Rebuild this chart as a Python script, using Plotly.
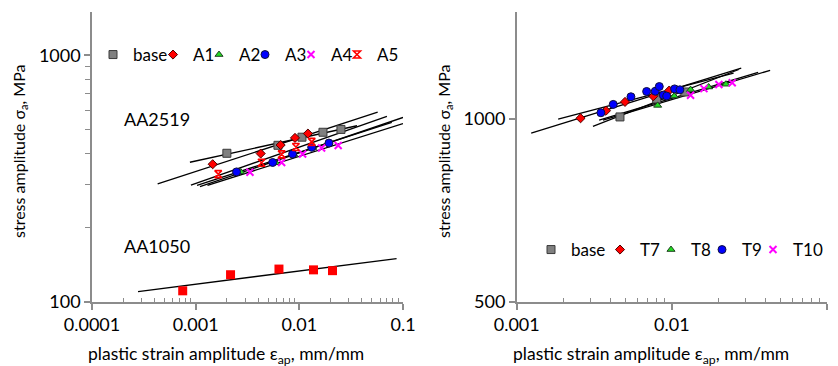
import numpy as np
import plotly.graph_objects as go

# ---------------- data: left chart (AA2519 / AA1050) ----------------
base_L_x = [0.0020, 0.00622, 0.0106, 0.0169, 0.0252]
base_L_y = [401, 432, 466, 488, 501]
A1_x = [0.00146, 0.00424, 0.0066, 0.00908, 0.0121]
A1_y = [362, 400, 433, 463, 482]
A2_x = [0.00272, 0.00594, 0.0088, 0.0135]
A2_y = [337, 367, 397, 423]
A3_x = [0.00248, 0.00553, 0.00861, 0.01316, 0.0193]
A3_y = [337, 368, 398, 424, 441]
A4_x = [0.00334, 0.00675, 0.01076, 0.0164, 0.0237]
A4_y = [336, 368, 398, 421, 431]
A5_x = [0.00165, 0.00432, 0.00675, 0.00927, 0.01316]
A5_y = [330, 367, 397, 425, 446]
AA1050_x = [0.00075, 0.00217, 0.00636, 0.0137, 0.0209]
AA1050_y = [111, 129, 136, 135, 134]

# trendline extents (strain range of each fitted power-law line)
line_L_names = ["base", "A1", "A2", "A3", "A4", "A5", "AA1050"]
line_L_start = [0.00088, 0.00043, 0.0011, 0.00103, 0.0013, 0.0009, 0.000278]
line_L_end = [0.036, 0.057, 0.1, 0.078, 0.1, 0.07, 0.0867]

# ---------------- data: right chart ----------------
base_R_x = [0.00463, 0.00798, 0.01213]
base_R_y = [1008, 1079, 1108]
T7_x = [0.00258, 0.00376, 0.00499, 0.00759, 0.00962]
T7_y = [1003, 1032, 1067, 1090, 1114]
T8_x = [0.0081, 0.01036, 0.0132, 0.01726, 0.02232]
T8_y = [1053, 1091, 1118, 1129, 1141]
T9_x = [0.00349, 0.00419, 0.00545, 0.00688, 0.00782, 0.0083, 0.0088, 0.00926, 0.01042, 0.01127]
T9_y = [1024, 1057, 1088, 1110, 1111, 1131, 1095, 1091, 1121, 1117]
T10_x = [0.0132, 0.0161, 0.0201, 0.0245]
T10_y = [1094, 1122, 1140, 1147]

line_R_names = ["base", "T7", "T8", "T9", "T10"]
line_R_start = [0.0031, 0.00124, 0.0034, 0.00185, 0.0036]
line_R_end = [0.027, 0.028, 0.036, 0.025, 0.043]

FONT = "Lato"
AX_COLOR = "#8C8C8C"


def fit_line(xs, ys, x0, x1):
    a, b = np.polyfit(np.log10(xs), np.log10(ys), 1)
    lx = np.array([x0, x1])
    return lx, 10 ** (b + a * np.log10(lx))


fig = go.Figure()

left_series = {
    "base": (base_L_x, base_L_y), "A1": (A1_x, A1_y), "A2": (A2_x, A2_y),
    "A3": (A3_x, A3_y), "A4": (A4_x, A4_y), "A5": (A5_x, A5_y),
    "AA1050": (AA1050_x, AA1050_y),
}
for name, s, e in zip(line_L_names, line_L_start, line_L_end):
    xs, ys = left_series[name]
    lx, ly = fit_line(xs, ys, s, e)
    fig.add_trace(go.Scatter(x=lx, y=ly, mode="lines", line=dict(color="black", width=1.3),
                             showlegend=False, hoverinfo="skip", xaxis="x", yaxis="y"))

right_series = {
    "base": (base_R_x, base_R_y), "T7": (T7_x, T7_y), "T8": (T8_x, T8_y),
    "T9": (T9_x, T9_y), "T10": (T10_x, T10_y),
}
for name, s, e in zip(line_R_names, line_R_start, line_R_end):
    xs, ys = right_series[name]
    lx, ly = fit_line(xs, ys, s, e)
    fig.add_trace(go.Scatter(x=lx, y=ly, mode="lines", line=dict(color="black", width=1.3),
                             showlegend=False, hoverinfo="skip", xaxis="x2", yaxis="y2"))

BORDER = dict(color="#3a3a3a", width=1)
sty = {
    "base": dict(symbol="square", size=8, color="#808080", line=BORDER),
    "red": dict(symbol="diamond", size=7, color="#FF0000", line=dict(color="#500000", width=1)),
    "green": dict(symbol="triangle-up", size=7, color="#22DD22", line=dict(color="#204020", width=1)),
    "blue": dict(symbol="circle", size=8, color="#0000FF", line=dict(color="#101040", width=1)),
    "mag": dict(symbol="x-thin-open", size=7, color="#FF00FF", line=dict(color="#FF00FF", width=2)),
    "A5": dict(symbol="hourglass-open", size=7, color="#FF0000", line=dict(color="#FF0000", width=1.6)),
}

fig.add_trace(go.Scatter(x=AA1050_x, y=AA1050_y, mode="markers",
                         marker=dict(symbol="square", size=9, color="#FF0000"),
                         showlegend=False, xaxis="x", yaxis="y"))

left_pts = [("base", base_L_x, base_L_y, "base", 15), ("A1", A1_x, A1_y, "red", 1),
            ("A2", A2_x, A2_y, "green", 1), ("A3", A3_x, A3_y, "blue", 1),
            ("A4", A4_x, A4_y, "mag", 1), ("A5", A5_x, A5_y, "A5", 25)]
for name, xs, ys, st, lw in left_pts:
    fig.add_trace(go.Scatter(x=xs, y=ys, mode="markers", name=name, marker=sty[st],
                             legend="legend", legendwidth=lw, xaxis="x", yaxis="y"))

right_pts = [("base", base_R_x, base_R_y, "base", 24), ("T7", T7_x, T7_y, "red", 6),
             ("T8", T8_x, T8_y, "green", 6), ("T9", T9_x, T9_y, "blue", 6),
             ("T10", T10_x, T10_y, "mag", 32)]
for name, xs, ys, st, lw in right_pts:
    fig.add_trace(go.Scatter(x=xs, y=ys, mode="markers", name=name, marker=sty[st],
                             legend="legend2", legendwidth=lw, xaxis="x2", yaxis="y2"))

W, H = 838, 366
def px_x(p): return p / W
def px_y(p): return (H - p) / H

minor_L = [m * 10 ** e for e in (-4, -3, -2) for m in range(2, 10)]
minor_R = [m * 10 ** e for e in (-3, -2) for m in range(2, 10)]
minor_yL = [m * 100 for m in range(2, 10)]

common_axis = dict(type="log", showgrid=False, zeroline=False, showline=True, automargin=False,
                   linecolor=AX_COLOR, linewidth=1.5, ticks="outside", ticklen=6,
                   tickcolor=AX_COLOR, tickwidth=1.5,
                   tickfont=dict(family=FONT, size=18, color="black"))

YT_SIZE = 16
XT_SIZE = 17.5
fig.update_layout(
    template="none",
    width=W, height=H, margin=dict(l=0, r=0, t=0, b=0, autoexpand=False),
    paper_bgcolor="white", plot_bgcolor="white",
    font=dict(family=FONT, color="black"),
    xaxis=dict(common_axis, domain=[px_x(92), px_x(403)], range=[-4, -1], anchor="y",
               tickvals=[0.0001, 0.001, 0.01, 0.1], ticktext=["0.0001", "0.001", "0.01", "0.1"],
               minor=dict(tickvals=minor_L, ticks="inside", ticklen=4, tickcolor=AX_COLOR, tickwidth=1)),
    yaxis=dict(common_axis, domain=[px_y(302), px_y(12)], range=[2, np.log10(1500)], anchor="x",
               tickvals=[100, 1000], ticktext=["100", "1000"],
               minor=dict(tickvals=minor_yL, ticks="outside", ticklen=5, tickcolor=AX_COLOR, tickwidth=1)),
    xaxis2=dict(common_axis, domain=[px_x(516.7), px_x(827)], range=[-3, -1], anchor="y2",
                tickvals=[0.001, 0.01, 0.1], ticktext=["0.001", "0.01", "0.1"],
                minor=dict(tickvals=minor_R, ticks="inside", ticklen=4, tickcolor=AX_COLOR, tickwidth=1)),
    yaxis2=dict(common_axis, domain=[px_y(302), px_y(12)], range=[np.log10(500), np.log10(1500)],
                anchor="x2", tickvals=[500, 1000], ticktext=["500", "1000"]),
    legend=dict(orientation="h", x=px_x(93), y=px_y(55), xanchor="left", yanchor="middle",
                font=dict(family=FONT, size=17, color="black"), bgcolor="rgba(0,0,0,0)",
                itemwidth=30, tracegroupgap=0),
    legend2=dict(orientation="h", x=px_x(531), y=px_y(250), xanchor="left", yanchor="middle",
                 font=dict(family=FONT, size=17, color="black"), bgcolor="rgba(0,0,0,0)",
                 itemwidth=30),
    annotations=[
        dict(text="AA2519", x=px_x(122), y=px_y(119), xref="paper", yref="paper",
             xanchor="left", yanchor="middle", showarrow=False, font=dict(family=FONT, size=18)),
        dict(text="AA1050", x=px_x(122), y=px_y(246), xref="paper", yref="paper",
             xanchor="left", yanchor="middle", showarrow=False, font=dict(family=FONT, size=18)),
        dict(text="stress amplitude σ<sub>a</sub>, MPa", x=px_x(19), y=px_y(152), xref="paper",
             yref="paper", textangle=-90, showarrow=False, xanchor="center", yanchor="middle",
             font=dict(family=FONT, size=YT_SIZE)),
        dict(text="stress amplitude σ<sub>a</sub>, MPa", x=px_x(444), y=px_y(152), xref="paper",
             yref="paper", textangle=-90, showarrow=False, xanchor="center", yanchor="middle",
             font=dict(family=FONT, size=YT_SIZE)),
        dict(text="plastic strain amplitude ε<sub>ap</sub>, mm/mm", x=px_x(226), y=px_y(355),
             xref="paper", yref="paper", showarrow=False, xanchor="center", yanchor="middle",
             font=dict(family=FONT, size=XT_SIZE)),
        dict(text="plastic strain amplitude ε<sub>ap</sub>, mm/mm", x=px_x(651), y=px_y(355),
             xref="paper", yref="paper", showarrow=False, xanchor="center", yanchor="middle",
             font=dict(family=FONT, size=XT_SIZE)),
    ],
)

fig.write_html("out.html")
